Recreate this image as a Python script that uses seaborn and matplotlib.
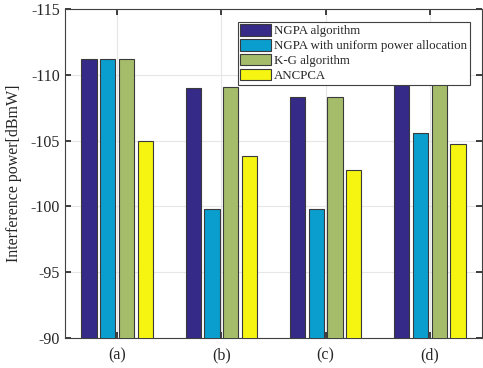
import matplotlib
matplotlib.use("Agg")
import matplotlib.pyplot as plt
import seaborn as sns
import pandas as pd

categories = ["(a)", "(b)", "(c)", "(d)"]
series_names = ["NGPA algorithm", "NGPA with uniform power allocation", "K-G algorithm", "ANCPCA"]
ngpa = [-111.2, -109.0, -108.3, -109.5]
ngpa_uniform = [-111.2, -99.8, -99.8, -105.6]
kg = [-111.2, -109.1, -108.3, -109.5]
ancpca = [-104.95, -103.8, -102.75, -104.75]
yticks = [-90, -95, -100, -105, -110, -115]
colors = ["#352A87", "#0A9ECF", "#A5BD6A", "#F5F511"]

rows = []
for name, vals in zip(series_names, [ngpa, ngpa_uniform, kg, ancpca]):
    for c, v in zip(categories, vals):
        rows.append({"cat": c, "series": name, "value": v})
df = pd.DataFrame(rows)

sns.set_theme(style="white")
plt.rcParams["font.family"] = ["Liberation Serif", "DejaVu Serif"]

fig = plt.figure(figsize=(4.83, 3.68), dpi=100)
ax = fig.add_axes([65 / 483, 1 - 338 / 368, 417 / 483, 329 / 368])
sns.barplot(data=df, x="cat", y="value", hue="series", hue_order=series_names,
            palette=colors, saturation=1, width=0.72, gap=0.18,
            edgecolor="#3a3a3a", linewidth=0.8, ax=ax, zorder=3)
ax.set_ylim(-90, -115)
ax.set_xlim(-0.5, 3.5)
ax.set_yticks(yticks)
ax.set_yticklabels([str(t) for t in yticks])
ax.set_xlabel("")
ax.set_ylabel("Interference power[dBmW]", fontsize=11.5, color="#262626", labelpad=6)
ax.tick_params(axis="both", direction="in", length=4, labelsize=11.5,
               colors="#262626", right=True, top=True, left=True, bottom=True)
ax.tick_params(axis="x", pad=7)
ax.grid(True, color="#e6e6e6", linewidth=0.8, zorder=0)
ax.set_axisbelow(True)
for s in ax.spines.values():
    s.set_color("#404040")
    s.set_linewidth(0.8)
    s.set_visible(True)

leg = ax.legend(loc="upper right", bbox_to_anchor=(0.971, 0.961), fontsize=9.3,
                frameon=True, fancybox=False, edgecolor="#404040", framealpha=1,
                handlelength=2.4, handleheight=0.95, handletextpad=0.25,
                labelspacing=0.15, borderpad=0.2, borderaxespad=0)
leg.get_frame().set_linewidth(0.8)
leg.set_zorder(10)

fig.savefig("out.png", dpi=100)
